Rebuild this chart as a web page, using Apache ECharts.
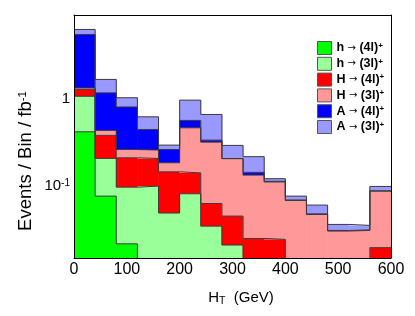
<!DOCTYPE html>
<html><head><meta charset="utf-8">
<script src="https://cdn.jsdelivr.net/npm/echarts@6/dist/echarts.min.js"></script>
<style>html,body{margin:0;padding:0;background:#fff}#c{width:415px;height:316px}</style>
</head><body><div id="c"></div>
<script>
// ---- data ----
const binEdges = [0,40,80,120,160,200,240,280,320,360,400,440,480,520,560,600];
const xTicks = [0,100,200,300,400,500,600];
const yTickValues = [0.1, 1];
const seriesNames = ['h4l','h3l','H4l','H3l','A4l','A3l'];
const legendParent = ['h','h','H','H','A','A'];
const legendFinal = ['(4l)','(3l)','(4l)','(3l)','(4l)','(3l)'];
const colors = ['#00ff00','#99ff99','#ff0000','#ff9999','#0000ff','#9999ff'];
// per-process contributions (events / bin / fb^-1), stacked bottom to top
const h4l = [0.416, 0.0765, 0.0218, 0, 0, 0, 0, 0, 0, 0, 0, 0, 0, 0, 0];
const h3l = [0.644, 0.130, 0.075, 0.0995, 0.049, 0.0814, 0.0347, 0.0211, 0, 0, 0, 0, 0, 0, 0];
const H4l = [0.21, 0.172, 0.113, 0.1065, 0.096, 0.0596, 0.0283, 0.0241, 0.0251, 0.0245, 0, 0, 0, 0, 0.0197];
const H3l = [0.05, 0.053, 0.051, 0.051, 0.039, 0.321, 0.254, 0.160, 0.108, 0.0865, 0.0683, 0.0472, 0.0305, 0.031, 0.0675];
const A4l = [4.07, 0.729, 0.539, 0.185, 0.077, 0.099, 0.017, 0.0005, 0.010, 0.002, 0.0007, 0.0008, 0.0005, 0.0005, 0.0008];
const A3l = [0.76, 0.49, 0.22, 0.175, 0.032, 0.396, 0.322, 0.085, 0.073, 0.008, 0.0075, 0.0124, 0.0053, 0.0039, 0.0107];
const yMin = 0.015, yMax = 9;

// ---- build ----
const FLOOR = 1e-4;
const comps = [h4l,h3l,H4l,H3l,A4l,A3l];
let run = new Array(binEdges.length-1).fill(0);
const series = [];
comps.forEach((arr,k)=>{
  const lo = run.slice();
  run = run.map((v,i)=>v+arr[i]);
  const hi = run.slice();
  const data = [];
  for (let i=0;i<arr.length;i++){
    if (arr[i] > 0) data.push([binEdges[i], binEdges[i+1], Math.max(lo[i],FLOOR), hi[i]]);
  }
  series.push({
    name: seriesNames[k], type:'custom', clip:true, z:2,
    itemStyle:{color:colors[k], borderColor:'#444', borderWidth:1},
    encode:{x:[0,1], y:[2,3]},
    data,
    renderItem:(params, api)=>{
      const p0 = api.coord([api.value(0), api.value(3)]);
      const p1 = api.coord([api.value(1), api.value(2)]);
      return {type:'rect', shape:{x:p0[0]-0.3, y:p0[1], width:p1[0]-p0[0]+0.6, height:p1[1]-p0[1]},
        style:{fill:colors[k]}};
    }
  });
  const ldata = [];
  for (let i=0;i<hi.length;i++) ldata.push([binEdges[i], Math.max(hi[i],FLOOR)]);
  ldata.push([binEdges[binEdges.length-1], Math.max(hi[hi.length-1],FLOOR)]);
  series.push({
    name: seriesNames[k]+'_outline', type:'line', step:'end', symbol:'none', z:3,
    clip:true, silent:true, lineStyle:{color:'#3a3a3a', width:1}, data: ldata
  });
});

const FONT = 'Liberation Sans';
const chart = echarts.init(document.getElementById('c'));
chart.setOption({
  animation:false,
  grid:{left:74, right:24, top:15, bottom:58},
  legend:{
    orient:'vertical', left:312, top:36, itemWidth:14, itemHeight:13, itemGap:1.8,
    icon:'rect',
    data: seriesNames.map((n,k)=>({name:n, itemStyle:{color:colors[k], borderColor:'#555', borderWidth:1}})),
    formatter:(name)=>{ const k = seriesNames.indexOf(name);
      return legendParent[k] + ' {arr|\u2192} ' + legendFinal[k] + '{sup|+}'; },
    textStyle:{fontFamily:FONT, fontSize:12.5, fontWeight:'bold', color:'#000', lineHeight:13,
      rich:{
        sup:{fontFamily:FONT, fontSize:8, fontWeight:'bold', color:'#000', verticalAlign:'top', lineHeight:9},
        arr:{fontFamily:'DejaVu Sans', fontSize:10, fontWeight:'normal', color:'#000', lineHeight:13}
      }}
  },
  xAxis:[
    {type:'value', min:0, max:600, interval:100, position:'bottom', z:10,
     axisLine:{show:true, onZero:false, lineStyle:{color:'#000', width:1}}, axisTick:{show:false}, splitLine:{show:false},
     axisLabel:{fontFamily:FONT, fontSize:16, color:'#000', margin:4,
       formatter:(v)=> xTicks.includes(v) ? String(v) : ''}},
    {type:'value', min:0, max:600, position:'top', z:10,
     axisLine:{show:true, onZero:false, lineStyle:{color:'#000', width:1}}, axisTick:{show:false}, splitLine:{show:false}, axisLabel:{show:false}}
  ],
  yAxis:[
    {type:'log', min:yMin, max:yMax, position:'left', z:10,
     axisLine:{show:true, onZero:false, lineStyle:{color:'#000', width:1}}, axisTick:{show:false}, splitLine:{show:false},
     axisLabel:{fontFamily:FONT, fontSize:15, color:'#000', margin:4,
       formatter:(v)=>{
         const hit = yTickValues.find(t=>Math.abs(Math.log10(v)-Math.log10(t))<1e-6);
         if (hit===undefined) return '';
         const e = Math.round(Math.log10(hit));
         return e===0 ? '1' : '10{sup|'+e+'}';
       },
       rich:{sup:{fontFamily:FONT, fontSize:10, color:'#000', verticalAlign:'top', lineHeight:10}}}},
    {type:'log', min:yMin, max:yMax, position:'right', z:10,
     axisLine:{show:true, onZero:false, lineStyle:{color:'#000', width:1}}, axisTick:{show:false}, splitLine:{show:false}, axisLabel:{show:false}}
  ],
  graphic:[
    {type:'text', x:26, y:161, rotation:Math.PI/2, z:20,
     style:{text:'Events / Bin / fb{sup|-1}', fontFamily:FONT, fontSize:18.5, fill:'#000', align:'center', verticalAlign:'middle',
       rich:{sup:{fontFamily:FONT, fontSize:11.5, fill:'#000', verticalAlign:'top', lineHeight:11}}}},
    {type:'text', x:241, y:298, z:20,
     style:{text:'H{sub|T}  (GeV)', fontFamily:FONT, fontSize:15, fill:'#000', align:'center', verticalAlign:'middle', lineHeight:18,
       rich:{sub:{fontFamily:FONT, fontSize:10.5, fill:'#000', verticalAlign:'bottom', lineHeight:11}}}}
  ],
  series
});
</script></body></html>
